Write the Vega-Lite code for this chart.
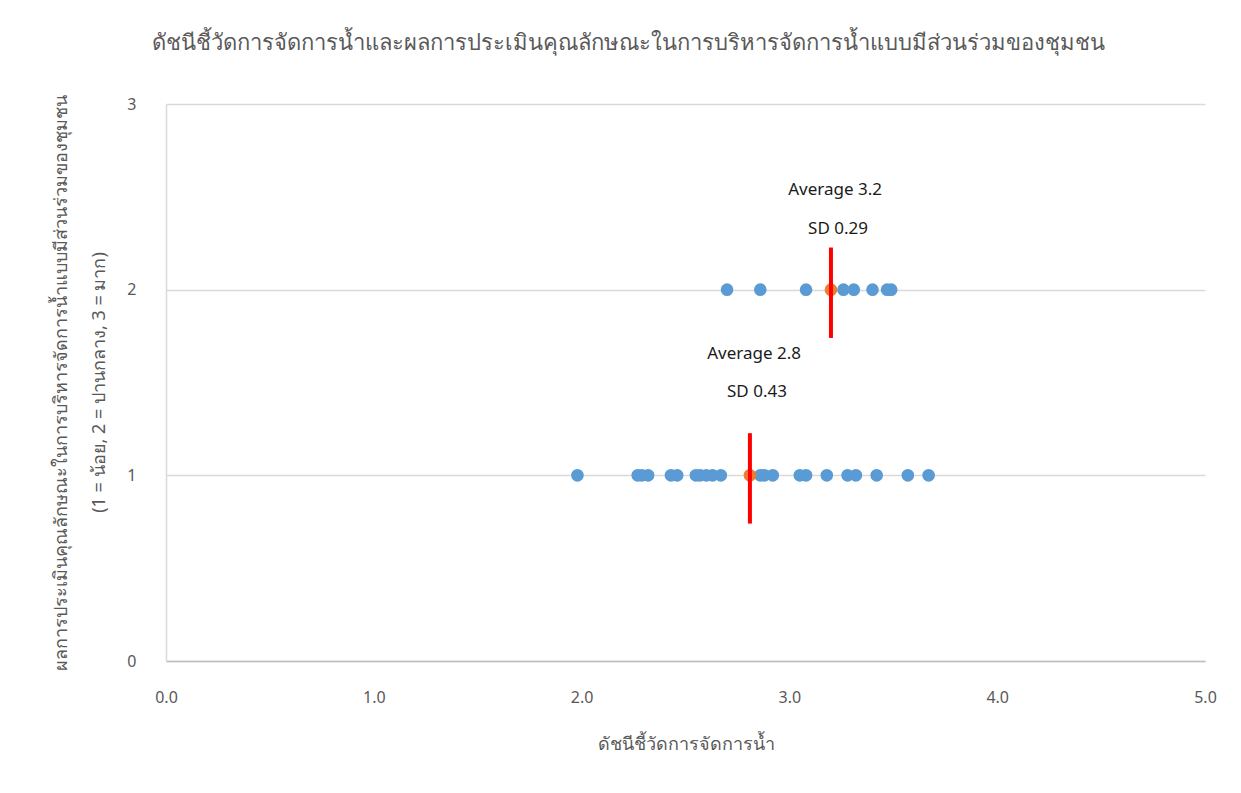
{
  "$schema": "https://vega.github.io/schema/vega-lite/v6.json",
  "autosize": "none",
  "width": 1039,
  "height": 557,
  "padding": {"left": 166, "top": 104, "right": 36, "bottom": 132},
  "background": "white",
  "config": {"view": {"stroke": null}, "font": "Noto Sans"},
  "title": {
    "text": "ดัชนีชี้วัดการจัดการน้ำและผลการประเมินคุณลักษณะในการบริหารจัดการน้ำแบบมีส่วนร่วมของชุมชน",
    "fontSize": 22,
    "fontWeight": "normal",
    "color": "#595959",
    "anchor": "middle",
    "frame": "group",
    "dx": -57,
    "baseline": "middle",
    "offset": 29
  },
  "datasets": {
    "pts": [
      {"x": 1.98, "y": 1}, {"x": 2.27, "y": 1}, {"x": 2.29, "y": 1}, {"x": 2.32, "y": 1},
      {"x": 2.43, "y": 1}, {"x": 2.46, "y": 1}, {"x": 2.55, "y": 1}, {"x": 2.57, "y": 1},
      {"x": 2.60, "y": 1}, {"x": 2.63, "y": 1}, {"x": 2.67, "y": 1}, {"x": 2.86, "y": 1},
      {"x": 2.88, "y": 1}, {"x": 2.92, "y": 1}, {"x": 3.05, "y": 1}, {"x": 3.08, "y": 1},
      {"x": 3.18, "y": 1}, {"x": 3.28, "y": 1}, {"x": 3.32, "y": 1}, {"x": 3.42, "y": 1},
      {"x": 3.57, "y": 1}, {"x": 3.67, "y": 1},
      {"x": 2.70, "y": 2}, {"x": 2.86, "y": 2}, {"x": 3.08, "y": 2}, {"x": 3.26, "y": 2},
      {"x": 3.31, "y": 2}, {"x": 3.40, "y": 2}, {"x": 3.47, "y": 2}, {"x": 3.49, "y": 2}
    ],
    "means": [
      {"mean": 2.81, "y": 1, "lo": 0.74, "hi": 1.227},
      {"mean": 3.20, "y": 2, "lo": 1.74, "hi": 2.227}
    ],
    "labels": [
      {"label": "Average 3.2", "lx": 3.22, "ly": 2.537},
      {"label": "SD 0.29", "lx": 3.234, "ly": 2.327},
      {"label": "Average 2.8", "lx": 2.83, "ly": 1.653},
      {"label": "SD 0.43", "lx": 2.844, "ly": 1.449}
    ]
  },
  "layer": [
    {
      "data": {"name": "pts"},
      "mark": {"type": "circle", "size": 160, "color": "#5b9bd5", "opacity": 1},
      "encoding": {
        "x": {
          "field": "x", "type": "quantitative",
          "scale": {"domain": [0, 5], "nice": false},
          "axis": {
            "values": [0, 1, 2, 3, 4, 5], "format": ".1f", "grid": false, "ticks": false,
            "labelFlush": false,
            "domainColor": "#bfbfbf", "domainWidth": 1.5,
            "labelFontSize": 16, "labelColor": "#595959", "labelPadding": 28,
            "title": "ดัชนีชี้วัดการจัดการน้ำ", "titleFontSize": 18, "titleFontWeight": "normal",
            "titleColor": "#595959", "titlePadding": 30
          }
        },
        "y": {
          "field": "y", "type": "quantitative",
          "scale": {"domain": [0, 3], "nice": false},
          "axis": {
            "values": [0, 1, 2, 3], "format": "d", "grid": true, "gridColor": "#d9d9d9", "gridWidth": 1.5,
            "ticks": false, "labelFlush": false, "domainColor": "#d9d9d9", "domainWidth": 1.5,
            "labelFontSize": 16, "labelColor": "#595959", "labelPadding": 30,
            "title": ["ผลการประเมินคุณลักษณะในการบริหารจัดการน้ำแบบมีส่วนร่วมของชุมชน", "(1 = น้อย, 2 = ปานกลาง, 3 = มาก)"],
            "titleFontSize": 18, "titleFontWeight": "normal", "titleColor": "#595959",
            "titleLineHeight": 38, "titleAngle": -90, "titleAlign": "center", "titleBaseline": "middle",
            "titleX": -105, "titleY": 278
          }
        }
      }
    },
    {
      "data": {"name": "means"},
      "mark": {"type": "circle", "size": 160, "color": "#ed7d31", "opacity": 1},
      "encoding": {
        "x": {"field": "mean", "type": "quantitative"},
        "y": {"field": "y", "type": "quantitative"}
      }
    },
    {
      "data": {"name": "means"},
      "mark": {"type": "rule", "color": "#ff0000", "strokeWidth": 4},
      "encoding": {
        "x": {"field": "mean", "type": "quantitative"},
        "y": {"field": "lo", "type": "quantitative"},
        "y2": {"field": "hi"}
      }
    },
    {
      "data": {"name": "labels"},
      "mark": {"type": "text", "fontSize": 17, "color": "#1a1a1a", "align": "center", "baseline": "middle"},
      "encoding": {
        "x": {"field": "lx", "type": "quantitative"},
        "y": {"field": "ly", "type": "quantitative"},
        "text": {"field": "label"}
      }
    }
  ]
}
